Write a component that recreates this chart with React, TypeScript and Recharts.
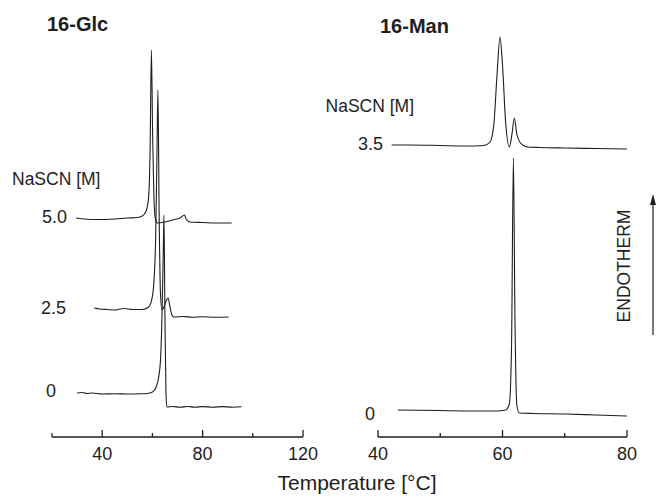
import React from "react";
import { LineChart, Line, XAxis, YAxis } from "recharts";

// Temperatures (°C) and relative heat-flow heights (arbitrary units, offset traces)
const glc0 = [
  [30, 44], [32, 44.5], [34, 43.5], [36, 44], [40, 43], [45, 43.2], [50, 43], [55, 43.2], [58, 43.5],
  [60, 45], [61.5, 50], [62.5, 60], [63.3, 80], [63.9, 130], [64.3, 180], [64.6, 222], [65.0, 120],
  [65.4, 45], [65.8, 30], [68, 30.5], [71, 29.8], [74, 30.5], [77, 29.8], [80, 30.4], [84, 29.8],
  [88, 30.4], [92, 29.8], [95.5, 30.2],
];
const glc25 = [
  [36.8, 129], [39, 128], [42, 127.5], [45, 127], [47, 128], [49, 128.5], [52, 127.5], [56, 127.5],
  [58.5, 130], [59.7, 137], [60.6, 155], [61.3, 200], [61.8, 280], [62.2, 347], [62.7, 220],
  [63.2, 145], [63.8, 127], [64.6, 130], [65.6, 137], [66.3, 139], [67.0, 130], [67.8, 122],
  [68.5, 120], [72, 120.5], [76, 119.8], [80, 120.3], [85, 119.8], [90.4, 120],
];
const glc50 = [
  [29.6, 219], [33, 218], [38, 217.5], [45, 218], [50, 219], [54, 219.5], [56, 221], [57.5, 226],
  [58.5, 240], [59.1, 290], [59.6, 387], [60.1, 300], [60.6, 240], [61.2, 218], [62, 214], [65, 215],
  [68, 217], [71, 219], [72.8, 222], [73.4, 218], [75, 215], [80, 214.5], [85, 214], [91.6, 214],
];
const man35 = [
  [42.2, 292], [45, 292], [50, 291.5], [54, 291], [57, 291.5], [58, 295], [58.6, 312], [59.1, 360],
  [59.6, 400], [60.0, 372], [60.5, 315], [61.1, 290], [61.5, 302], [61.9, 319], [62.3, 303],
  [62.9, 294], [64, 290], [66, 289.5], [70, 289], [75, 288.5], [80, 288],
];
const man0 = [
  [43.2, 27], [50, 26.5], [55, 26], [59, 26], [60.5, 27], [61.1, 33], [61.45, 90], [61.75, 279],
  [62.0, 120], [62.3, 32], [62.7, 24], [65, 23.5], [70, 23], [75, 22], [80, 21],
];

const glcTicks = [20, 40, 60, 80, 100, 120];
const glcLabels = [40, 80, 120];
const manTicks = [40, 50, 60, 70, 80];
const manLabels = [40, 60, 80];

const toPts = (a: number[][]) => a.map(([t, h]) => ({ t, h }));

const FONT = '"Liberation Sans", Arial, sans-serif';
const INK = "#1e1e1e";

const makeTick = (labels: number[]) => (props: any) => {
  const { x, y, payload } = props;
  const v = payload.value;
  const len = labels.includes(v) ? 7 : 4;
  return (
    <g>
      <line x1={x} y1={y} x2={x} y2={y - len} stroke={INK} strokeWidth={1.3} />
      {labels.includes(v) && (
        <text x={x} y={y + 23} textAnchor="middle" fontSize={18} fontFamily={FONT} fill={INK}>
          {v}
        </text>
      )}
    </g>
  );
};

const Panel = ({ left, width, margin, domain, ticks, labels, series }: any) => (
  <div style={{ position: "absolute", left, top: 0 }}>
    <LineChart width={width} height={498} margin={margin}>
      <XAxis
        type="number"
        dataKey="t"
        domain={domain}
        ticks={ticks}
        interval={0}
        height={30}
        tickSize={0}
        tickMargin={0}
        tickLine={false}
        axisLine={{ stroke: INK, strokeWidth: 1.3 }}
        tick={makeTick(labels)}
        allowDataOverflow
      />
      <YAxis hide width={0} type="number" domain={[0, 407]} />
      {series.map((s: number[][], i: number) => (
        <Line
          key={i}
          data={toPts(s)}
          dataKey="h"
          type="monotone"
          stroke={INK}
          strokeWidth={1.1}
          dot={false}
          activeDot={false}
          isAnimationActive={false}
        />
      ))}
    </LineChart>
  </div>
);

export default function App() {
  const txt = { fontFamily: FONT, fill: INK } as any;
  return (
    <div style={{ position: "absolute", left: 0, top: 0, width: 656, height: 498, background: "#fff" }}>
      <Panel
        left={0}
        width={340}
        margin={{ top: 30, right: 37, bottom: 31, left: 52 }}
        domain={[20, 120]}
        ticks={glcTicks}
        labels={glcLabels}
        series={[glc0, glc25, glc50]}
      />
      <Panel
        left={340}
        width={316}
        margin={{ top: 30, right: 29, bottom: 31, left: 38 }}
        domain={[40, 80]}
        ticks={manTicks}
        labels={manLabels}
        series={[man0, man35]}
      />
      <svg width={656} height={498} style={{ position: "absolute", left: 0, top: 0, pointerEvents: "none" }}>
        <text x={47} y={31} fontSize={20} fontWeight="bold" {...txt}>16-Glc</text>
        <text x={12} y={185} fontSize={17.5} {...txt}>NaSCN [M]</text>
        <text x={67} y={223} fontSize={18} textAnchor="end" {...txt}>5.0</text>
        <text x={66} y={314} fontSize={18} textAnchor="end" {...txt}>2.5</text>
        <text x={56} y={397} fontSize={18} textAnchor="end" {...txt}>0</text>
        <text x={380} y={33} fontSize={20} fontWeight="bold" {...txt}>16-Man</text>
        <text x={414} y={112} fontSize={17.5} textAnchor="end" {...txt}>NaSCN [M]</text>
        <text x={383} y={150} fontSize={18} textAnchor="end" {...txt}>3.5</text>
        <text x={375} y={420} fontSize={18} textAnchor="end" {...txt}>0</text>
        <text x={357} y={490} fontSize={21} textAnchor="middle" {...txt}>Temperature [°C]</text>
        <text x={0} y={0} transform="translate(630,266) rotate(-90)" fontSize={17.5} textAnchor="middle" {...txt}>
          ENDOTHERM
        </text>
        <line x1={653} y1={335} x2={653} y2={203} stroke={INK} strokeWidth={1.2} />
        <polygon points="653,194 650,205 656,205" fill={INK} />
      </svg>
    </div>
  );
}
